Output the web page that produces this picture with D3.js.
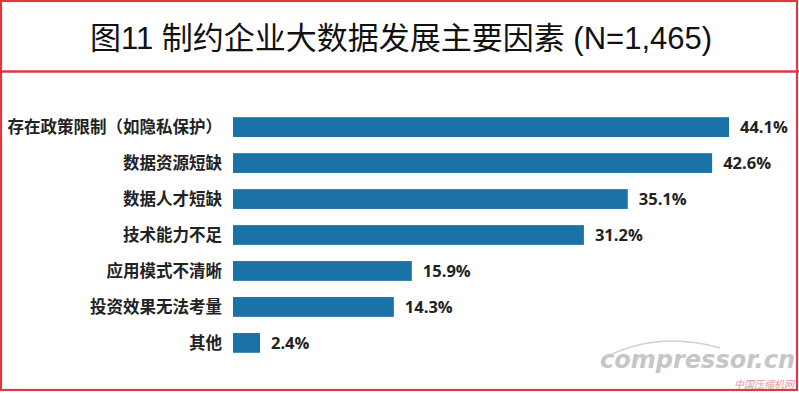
<!DOCTYPE html>
<html><head><meta charset="utf-8">
<script src="https://cdn.jsdelivr.net/npm/d3@7/dist/d3.min.js"></script>
<style>body{margin:0;background:#fff}svg{display:block}</style>
</head><body>
<svg id="c" width="799" height="393"></svg>
<script>
const title = "图11 制约企业大数据发展主要因素 (N=1,465)";
const categories = ["存在政策限制（如隐私保护）","数据资源短缺","数据人才短缺","技术能力不足","应用模式不清晰","投资效果无法考量","其他"];
const values = [44.1, 42.6, 35.1, 31.2, 15.9, 14.3, 2.4];
const valueLabels = ["44.1%","42.6%","35.1%","31.2%","15.9%","14.3%","2.4%"];

const svg = d3.select("#c");
const red = "#dc3a40";
// frames
svg.append("rect").attr("x",1).attr("y",1).attr("width",796).attr("height",389)
  .attr("fill","none").attr("stroke",red).attr("stroke-width",2.2);
svg.append("line").attr("x1",0).attr("x2",799).attr("y1",71.5).attr("y2",71.5)
  .attr("stroke",red).attr("stroke-width",2.5);

svg.append("text").attr("x",401).attr("y",49).attr("text-anchor","middle")
  .attr("font-family","'Liberation Sans','Noto Sans CJK SC',sans-serif")
  .attr("font-size",31).attr("fill","#111").text(title);

const x = d3.scaleLinear().domain([0, 44.1]).range([233, 729]);
const y = d3.scaleBand().domain(categories).range([110, 360]).paddingInner(0.45).paddingOuter(0.2);

const g = svg.append("g");
g.selectAll("rect.bar").data(values).join("rect").attr("class","bar")
  .attr("x", x(0)).attr("y",(d,i)=>y(categories[i]))
  .attr("width", d=>x(d)-x(0)).attr("height", y.bandwidth())
  .attr("fill","#1b72a7");

g.selectAll("text.cat").data(categories).join("text").attr("class","cat")
  .attr("x",222).attr("y",d=>y(d)+y.bandwidth()/2).attr("dy","0.36em")
  .attr("text-anchor","end").attr("font-family","'Noto Sans CJK SC',sans-serif")
  .attr("font-weight","bold").attr("font-size",16.5).attr("fill","#222").text(d=>d);

g.selectAll("text.val").data(values).join("text").attr("class","val")
  .attr("x",d=>x(d)+11).attr("y",(d,i)=>y(categories[i])+y.bandwidth()/2).attr("dy","0.36em")
  .attr("font-family","'Open Sans',sans-serif").attr("font-weight","bold")
  .attr("font-size",16.5).attr("fill","#222").text((d,i)=>valueLabels[i]);

// watermark
const wm = svg.append("g").attr("opacity",0.55);
wm.append("path").attr("d","M608,356 Q660,331 720,348").attr("fill","none").attr("stroke","#aaa").attr("stroke-width",1.5);
wm.append("text").attr("x",795).attr("y",368).attr("text-anchor","end")
  .attr("font-family","'DejaVu Sans',sans-serif").attr("font-style","italic").attr("font-weight","bold")
  .attr("font-size",24).attr("fill","#999").text("compressor.cn");
wm.append("text").attr("x",794).attr("y",388).attr("text-anchor","end")
  .attr("font-family","'Noto Sans CJK SC',sans-serif").attr("font-style","italic")
  .attr("font-size",10).attr("fill","#c44").text("中国压缩机网");
</script>
</body></html>
